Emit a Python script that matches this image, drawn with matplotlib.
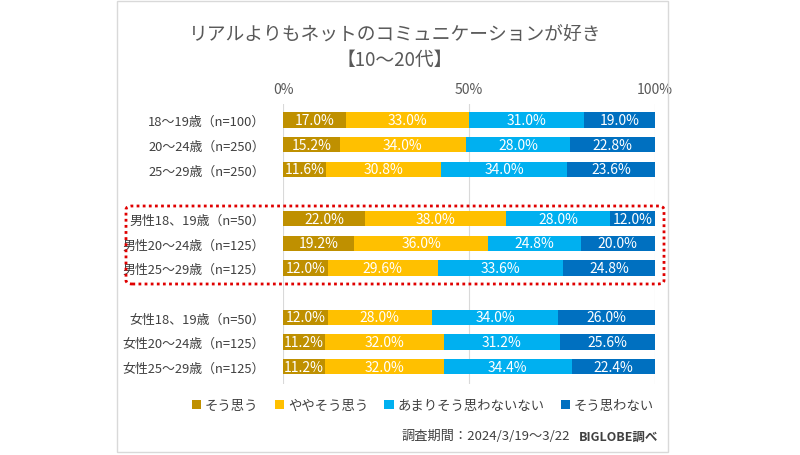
import numpy as np
import matplotlib.pyplot as plt
from matplotlib.patches import Rectangle, FancyBboxPatch

plt.rcParams['font.family'] = ['Noto Sans CJK JP', 'DejaVu Sans']

title = "リアルよりもネットのコミュニケーションが好き\n【10～20代】"
groups = [
    "18～19歳（n=100）", "20～24歳（n=250）", "25～29歳（n=250）", "",
    "男性18、19歳（n=50）", "男性20～24歳（n=125）", "男性25～29歳（n=125）", "",
    "女性18、19歳（n=50）", "女性20～24歳（n=125）", "女性25～29歳（n=125）",
]
series = ["そう思う", "ややそう思う", "あまりそう思わないない", "そう思わない"]
colors = ["#BF9000", "#FFC000", "#00B0F0", "#0070C0"]

sou_omou = [17.0, 15.2, 11.6, np.nan, 22.0, 19.2, 12.0, np.nan, 12.0, 11.2, 11.2]
yaya = [33.0, 34.0, 30.8, np.nan, 38.0, 36.0, 29.6, np.nan, 28.0, 32.0, 32.0]
amari = [31.0, 28.0, 34.0, np.nan, 28.0, 24.8, 33.6, np.nan, 34.0, 31.2, 34.4]
omowanai = [19.0, 22.8, 23.6, np.nan, 12.0, 20.0, 24.8, np.nan, 26.0, 25.6, 22.4]
values = [sou_omou, yaya, amari, omowanai]

fig = plt.figure(figsize=(8, 4.56), dpi=100)
W, H = 800, 456

# outer frame
fig.patches.append(Rectangle((117 / W, 1 - 453 / H), 551 / W, 451 / H,
                             transform=fig.transFigure, fill=False,
                             edgecolor="#D9D9D9", linewidth=1))

ax = fig.add_axes([283 / W, 1 - 385 / H, 372 / W, 280 / H])
y = np.arange(len(groups))
left = np.zeros(len(groups))
for vals, name, c in zip(values, series, colors):
    v = np.nan_to_num(np.array(vals))
    ax.barh(y, v, left=left, height=0.62, color=c, label=name)
    for yi, (l, w) in enumerate(zip(left, v)):
        if w > 0:
            ax.text(l + w / 2, yi, f"{w:.1f}%", ha="center", va="center",
                    color="white", fontsize=10)
    left += v

ax.set_xlim(0, 100)
ax.set_ylim(10.7, -0.65)
ax.set_xticks([0, 50, 100])
ax.set_xticklabels(["0%", "50%", "100%"], fontsize=10, color="#595959")
ax.xaxis.tick_top()
ax.tick_params(axis="x", length=0, pad=6)
ax.set_yticks(y)
ax.set_yticklabels(groups, fontsize=9.3, color="#404040")
ax.tick_params(axis="y", length=0, pad=13)
ax.grid(axis="x", color="#D9D9D9", linewidth=0.8)
ax.set_axisbelow(True)
for s in ax.spines.values():
    s.set_visible(False)

fig.text(395 / W, 1 - 48 / H, title, ha="center", va="center",
         fontsize=13.5, color="#595959", linespacing=1.25)

# red dotted highlight around male rows
fig.patches.append(FancyBboxPatch((126 / W, 1 - 285 / H), 538 / W, 78 / H,
                                  boxstyle="round,pad=0,rounding_size=0.008",
                                  transform=fig.transFigure, fill=False,
                                  edgecolor="#E00000", linewidth=2,
                                  linestyle=(0, (1, 1.2))))

fig.legend(loc="center", bbox_to_anchor=(423 / W, 1 - 406 / H), ncol=4,
           frameon=False, fontsize=9.6, handlelength=0.7, handleheight=0.7,
           handletextpad=0.3, columnspacing=1.2, labelcolor="#404040")

fig.text(570 / W, 1 - 437 / H, "調査期間：2024/3/19～3/22", ha="right",
         va="center", fontsize=9.5, color="#404040")
fig.text(579 / W, 1 - 437 / H, "BIGLOBE調べ", ha="left", va="center",
         fontsize=9, color="#404040", fontweight="bold")

fig.savefig("out.png", dpi=100)
